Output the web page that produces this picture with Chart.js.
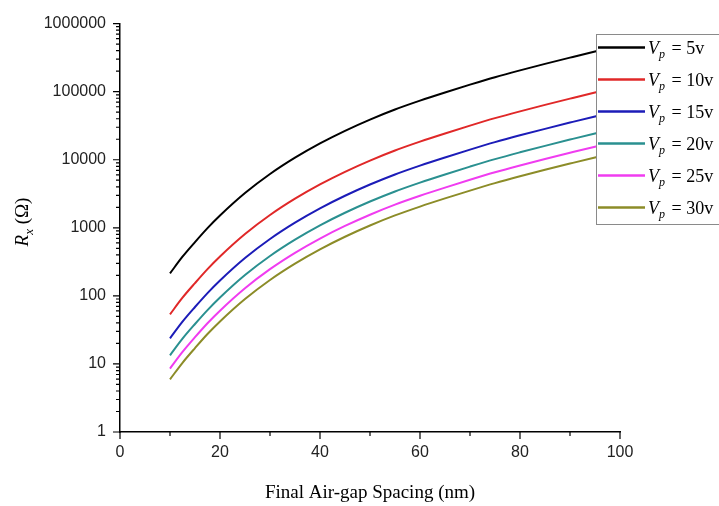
<!DOCTYPE html>
<html><head><meta charset="utf-8">
<script src="https://cdn.jsdelivr.net/npm/chart.js@4"></script>
<style>html,body{margin:0;padding:0;background:#fff}canvas{display:block}</style>
</head><body>
<canvas id="c" width="719" height="506"></canvas>
<script>
// ---- data ----
const gapSpacing = [10,12.5,15,17.5,20,25,30,35,40,45,50,55,60,65,70,75,80,85,90,95,100];
const rVp5  = [214,376,617,989,1514,3236,6166,10715,17378,26607,38905,54702,73790,97275,126765,163305,205590,255860,316230,389045,473150];
const rVp10 = [53.5,94,154,247,378.5,809,1541.5,2679,4344.5,6652,9726,13676,18448,24319,31691,40826,51398,63965,79058,97261,118288];
const rVp15 = [23.8,41.8,68.6,109.9,168.2,359.6,685.1,1190.6,1930.9,2956.3,4322.8,6078,8198.9,10808,14085,18145,22843,28429,35137,43227,52572];
const rVp20 = [13.4,23.5,38.6,61.8,94.6,202.3,385.4,669.7,1086.1,1662.9,2431.6,3418.9,4611.9,6079.7,7922.8,10207,12849,15991,19764,24315,29572];
const rVp25 = [8.56,15.0,24.7,39.6,60.6,129.4,246.6,428.6,695.1,1064.3,1556.2,2188.1,2951.6,3891,5070.6,6532.2,8223.6,10234,12649,15562,18926];
const rVp30 = [5.94,10.4,17.1,27.5,42.1,89.9,171.3,297.6,482.7,739.1,1080.7,1519.5,2049.7,2702.1,3521.3,4536.3,5710.8,7107.2,8784.2,10807,13143];
const seriesLabels = ['5v','10v','15v','20v','25v','30v'];
const xTicks = [0,20,40,60,80,100];
const xTickLabels = ['0','20','40','60','80','100'];
const yTicks = [1,10,100,1000,10000,100000,1000000];
const yTickLabels = ['1','10','100','1000','10000','100000','1000000'];
const xTitle = 'Final Air-gap Spacing (nm)';

const seriesValues = [rVp5,rVp10,rVp15,rVp20,rVp25,rVp30];
const colors = ['#000000','#e02828','#1c1cb8','#2a9090','#f03cf0','#8c8c28'];

const datasets = seriesValues.map((vals,i)=>({
  label: 'Vp = ' + seriesLabels[i],
  data: gapSpacing.map((g,j)=>({x:g, y:vals[j]})),
  borderColor: colors[i],
  backgroundColor: colors[i],
  borderWidth: 2,
  pointRadius: 0,
  fill: false,
  cubicInterpolationMode: 'monotone'
}));

const serif = '"Liberation Serif", "Times New Roman", serif';

const decor = {
  id: 'decor',
  afterDraw(chart){
    const {ctx, scales:{x,y}, chartArea:a} = chart;
    ctx.save();
    // tick marks (major + minor) outward
    ctx.strokeStyle = '#000'; ctx.lineWidth = 1.2;
    ctx.beginPath();
    for (let v = x.min; v <= x.max; v += 10) {
      const px = x.getPixelForValue(v);
      const len = (v % 20 === 0) ? 7 : 4;
      ctx.moveTo(px, a.bottom); ctx.lineTo(px, a.bottom + len);
    }
    for (let k = 0; k <= 6; k++) {
      for (let m = 1; m <= 9; m++) {
        const v = m * Math.pow(10, k);
        if (v > y.max) break;
        const py = y.getPixelForValue(v);
        const len = (m === 1) ? 7 : 4;
        ctx.moveTo(a.left, py); ctx.lineTo(a.left - len, py);
      }
    }
    ctx.stroke();

    // y title: R_x (Ω)
    ctx.save();
    ctx.translate(21, 222);
    ctx.rotate(-Math.PI/2);
    const parts = [
      {t:'R', f:'italic 19px ' + serif, dy:0},
      {t:'x', f:'italic 13px ' + serif, dy:5},
      {t:' (Ω)', f:'19px ' + serif, dy:0}
    ];
    let w = 0;
    parts.forEach(p=>{ctx.font=p.f; p.w=ctx.measureText(p.t).width; w+=p.w;});
    let cx = -w/2;
    ctx.fillStyle = '#000'; ctx.textBaseline = 'alphabetic'; ctx.textAlign = 'left';
    parts.forEach(p=>{ctx.font=p.f; ctx.fillText(p.t, cx, 6.5 + p.dy); cx += p.w;});
    ctx.restore();

    // legend box
    const lx = 596, ly = 34, lw = 140, lh = 190;
    ctx.fillStyle = '#fff'; ctx.fillRect(lx, ly, lw, lh);
    ctx.strokeStyle = '#8a8a8a'; ctx.lineWidth = 1;
    ctx.strokeRect(lx + 0.5, ly + 0.5, lw, lh);
    chart.data.datasets.forEach((ds,i)=>{
      const cy = 47.5 + i * 32;
      ctx.strokeStyle = ds.borderColor; ctx.lineWidth = 2.5;
      ctx.beginPath(); ctx.moveTo(598, cy); ctx.lineTo(645, cy); ctx.stroke();
      ctx.fillStyle = '#000'; ctx.textAlign = 'left'; ctx.textBaseline = 'alphabetic';
      let tx = 648;
      ctx.font = 'italic 18px ' + serif; ctx.fillText('V', tx, cy + 6); tx += ctx.measureText('V').width;
      ctx.font = 'italic 12px ' + serif; ctx.fillText('p', tx, cy + 10); tx += ctx.measureText('p').width;
      ctx.font = '18px ' + serif; ctx.fillText(' = ' + seriesLabels[i], tx + 2, cy + 6);
    });
    ctx.restore();
  }
};

new Chart(document.getElementById('c'), {
  type: 'line',
  data: { datasets },
  options: {
    responsive: false,
    animation: false,
    devicePixelRatio: 1,
    layout: { padding: { top: 21, right: 99, left: 0, bottom: 0 } },
    plugins: { legend: { display: false }, tooltip: { enabled: false } },
    scales: {
      x: {
        type: 'linear', min: 0, max: 100,
        afterBuildTicks: s => { s.ticks = xTicks.map(v=>({value:v})); },
        afterFit: s => { s.height = 74; },
        ticks: {
          callback: (v) => xTickLabels[xTicks.indexOf(v)],
          font: { family: '"Liberation Sans", Arial, sans-serif', size: 16 },
          color: '#222', padding: 11, maxRotation: 0, autoSkip: false
        },
        grid: { display: false, drawTicks: false },
        border: { display: true, color: '#000', width: 1.5 },
        title: { display: true, text: xTitle, color: '#000',
                 font: { family: serif, size: 19 }, padding: { top: 0, bottom: 2 } }
      },
      y: {
        type: 'logarithmic', min: 1, max: 1000000,
        afterBuildTicks: s => { s.ticks = yTicks.map(v=>({value:v})); },
        afterFit: s => { s.width = 120; },
        ticks: {
          callback: (v) => yTickLabels[yTicks.indexOf(v)],
          font: { family: '"Liberation Sans", Arial, sans-serif', size: 16 },
          color: '#222', padding: 14, autoSkip: false
        },
        grid: { display: false, drawTicks: false },
        border: { display: true, color: '#000', width: 1.5 }
      }
    }
  },
  plugins: [decor]
});
</script>
</body></html>
